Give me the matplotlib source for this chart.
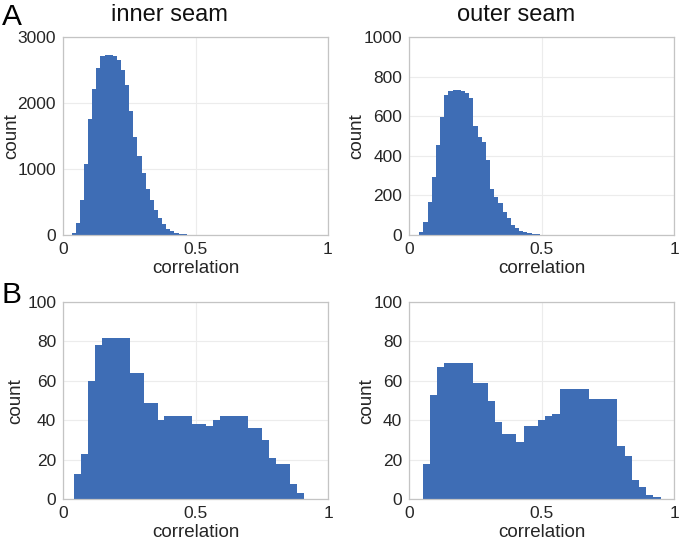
import numpy as np
import matplotlib
matplotlib.use("Agg")
import matplotlib.pyplot as plt

plt.rcParams['font.family'] = ['Liberation Sans', 'DejaVu Sans']

# ---- data ----
inner_A_start, inner_A_width = 0.033, 0.0155
inner_A_counts = [30, 180, 525, 1080, 1765, 2205, 2528, 2715, 2720, 2720, 2715, 2648,
                  2505, 2275, 1877, 1482, 1190, 937, 700, 525, 379, 251, 170, 90, 55,
                  37, 20, 12, 7, 4, 2]

outer_A_start, outer_A_width = 0.0378, 0.0157
outer_A_counts = [17, 66, 168, 294, 457, 595, 705, 728, 730, 730, 726, 718, 694, 552,
                  497, 468, 380, 230, 190, 160, 118, 84, 52, 35, 22, 13, 8, 5, 3, 2, 1, 1]

inner_B_start, inner_B_width = 0.0403, 0.02627
inner_B_counts = [13, 23, 60, 78, 82, 82, 82, 82, 64, 64, 49, 49, 40, 42, 42, 42, 42,
                  38, 38, 37, 40, 42, 42, 42, 42, 36, 36, 30, 21, 18, 18, 8, 3]

outer_B_start, outer_B_width = 0.0504, 0.02722
outer_B_counts = [18, 53, 67, 69, 69, 69, 69, 59, 59, 50, 39, 33, 33, 29, 37, 37, 40,
                  42, 43, 56, 56, 56, 56, 51, 51, 51, 51, 27, 22, 10, 6, 2, 1]

x_ticks = [0, 0.5, 1]
x_ticklabels = ['0', '0.5', '1']
yticks_A_inner = [0, 1000, 2000, 3000]
yticks_A_outer = [0, 200, 400, 600, 800, 1000]
yticks_B = [0, 20, 40, 60, 80, 100]
titles = ['inner seam', 'outer seam']
panel_letters = ['A', 'B']

BAR = '#3E6DB5'
TXT = '#262626'
BOX = '#c4c4c4'
GRID = '#ececec'

W, H = 679, 546
fig = plt.figure(figsize=(W / 100, H / 100), dpi=100)


def add_axes(x0, y0, x1, y1):
    return fig.add_axes([x0 / W, 1 - y1 / H, (x1 - x0) / W, (y1 - y0) / H])


def draw(ax, start, width, counts, yticks, ylab_x):
    counts = np.asarray(counts, dtype=float)
    edges = start + width * np.arange(len(counts) + 1)
    ax.stairs(counts, edges, fill=True, color=BAR, linewidth=0)
    ax.set_xlim(0, 1)
    ax.set_ylim(yticks[0], yticks[-1])
    ax.set_xticks(x_ticks)
    ax.set_xticklabels(x_ticklabels)
    ax.set_yticks(yticks)
    ax.set_yticklabels([str(t) for t in yticks])
    ax.grid(True, color=GRID, linewidth=0.8)
    ax.set_axisbelow(True)
    for s in ax.spines.values():
        s.set_color(BOX)
        s.set_linewidth(0.9)
    ax.tick_params(axis='both', which='both', direction='in', length=0,
                   labelsize=12.5, colors=TXT, pad=5)
    ax.set_xlabel('correlation', fontsize=13.5, color=TXT, labelpad=2)
    ax.set_ylabel('count', fontsize=13.5, color=TXT, va='center')
    ax.yaxis.set_label_coords(ylab_x, 0.5)


ax1 = add_axes(63, 37, 328, 235)
draw(ax1, inner_A_start, inner_A_width, inner_A_counts, yticks_A_inner, -0.194)
ax2 = add_axes(409.3, 37, 674.3, 235)
draw(ax2, outer_A_start, outer_A_width, outer_A_counts, yticks_A_outer, -0.197)
ax3 = add_axes(63.3, 302, 328.3, 499.3)
draw(ax3, inner_B_start, inner_B_width, inner_B_counts, yticks_B, -0.178)
ax4 = add_axes(409.3, 302, 674.3, 499.3)
draw(ax4, outer_B_start, outer_B_width, outer_B_counts, yticks_B, -0.16)

fig.text(169 / W, 1 - 21 / H, titles[0], fontsize=17, color='#111111',
         ha='center', va='baseline')
fig.text(516 / W, 1 - 21 / H, titles[1], fontsize=17, color='#111111',
         ha='center', va='baseline')

fig.text(2 / W, 1 - 25 / H, panel_letters[0], fontsize=21.5, color='black', va='baseline')
fig.text(2 / W, 1 - 303 / H, panel_letters[1], fontsize=21.5, color='black', va='baseline')

fig.savefig('out.png', dpi=100)
